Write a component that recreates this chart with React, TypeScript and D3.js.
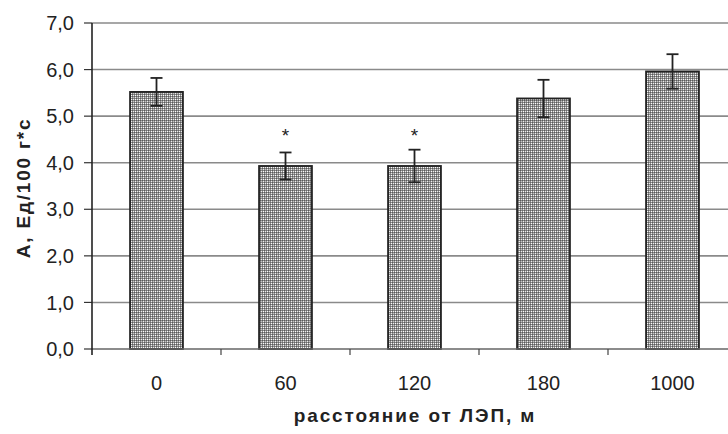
import React from 'react';
import * as d3 from 'd3';

// distance from power line, m
const categories = ['0', '60', '120', '180', '1000'];
const values = [5.52, 3.93, 3.93, 5.38, 5.96];
const errors = [0.3, 0.29, 0.35, 0.4, 0.37];
const marks = ['', '*', '*', '', ''];
const yTicks = [0, 1, 2, 3, 4, 5, 6, 7];

const width = 728;
const height = 434;
const margin = { top: 23, left: 92, bottom: 85 };
const bandWidth = 129;

export default function App() {
  const x = d3.scaleBand<string>()
    .domain(categories)
    .range([margin.left, margin.left + bandWidth * categories.length])
    .paddingInner(0.59)
    .paddingOuter(0.295);

  const y = d3.scaleLinear()
    .domain([0, 7])
    .range([height - margin.bottom, margin.top]);

  const fmt = (v: number) => v.toFixed(1).replace('.', ',');
  const bottom = y(0);
  const right = margin.left + bandWidth * categories.length;
  const sep = categories.map((_, i) => margin.left + bandWidth * (i + 1));

  return (
    <svg width={width} height={height}
      style={{ position: 'absolute', left: 0, top: 0, background: '#fff' }}
      fontFamily="Arial, 'Liberation Sans', sans-serif">
      <defs>
        <pattern id="dots" width="4" height="4" patternUnits="userSpaceOnUse">
          <rect width="4" height="4" fill="#8c8c8c" />
          <rect x="0" y="0" width="1" height="1" fill="#5a5a5a" />
          <rect x="2" y="0" width="1" height="1" fill="#5a5a5a" />
          <rect x="1" y="1" width="1" height="1" fill="#c4c4c4" />
          <rect x="3" y="1" width="1" height="1" fill="#ededed" />
          <rect x="0" y="2" width="1" height="1" fill="#5a5a5a" />
          <rect x="2" y="2" width="1" height="1" fill="#6a6a6a" />
          <rect x="1" y="3" width="1" height="1" fill="#ededed" />
          <rect x="3" y="3" width="1" height="1" fill="#ffffff" />
        </pattern>
      </defs>

      {yTicks.slice(1).map(t => (
        <line key={'g' + t} x1={margin.left} x2={right} y1={y(t)} y2={y(t)}
          stroke="#8a8a8a" strokeWidth={1.6} />
      ))}

      {yTicks.map(t => (
        <g key={'t' + t}>
          <line x1={margin.left - 8} x2={margin.left} y1={y(t)} y2={y(t)} stroke="#333" strokeWidth={1.2} />
          <text x={margin.left - 18} y={y(t)} dy="0.36em" textAnchor="end"
            fontSize={20} fill="#222">{fmt(t)}</text>
        </g>
      ))}

      {categories.map((c, i) => (
        <g key={c}>
          <rect x={x(c)} y={y(values[i])} width={x.bandwidth()} height={bottom - y(values[i])}
            fill="url(#dots)" stroke="#222" strokeWidth={1.8} />
          <line x1={x(c)! + x.bandwidth() / 2} x2={x(c)! + x.bandwidth() / 2}
            y1={y(values[i] + errors[i])} y2={y(values[i] - errors[i])} stroke="#222" strokeWidth={1.8} />
          <line x1={x(c)! + x.bandwidth() / 2 - 6} x2={x(c)! + x.bandwidth() / 2 + 6}
            y1={y(values[i] + errors[i])} y2={y(values[i] + errors[i])} stroke="#222" strokeWidth={1.8} />
          <line x1={x(c)! + x.bandwidth() / 2 - 6} x2={x(c)! + x.bandwidth() / 2 + 6}
            y1={y(values[i] - errors[i])} y2={y(values[i] - errors[i])} stroke="#222" strokeWidth={1.8} />
          {marks[i] && (
            <text x={x(c)! + x.bandwidth() / 2} y={y(4.72)} dy="0.7em" textAnchor="middle"
              fontSize={19} fill="#222">{marks[i]}</text>
          )}
          <text x={x(c)! + x.bandwidth() / 2} y={bottom + 34} dy="0.36em" textAnchor="middle"
            fontSize={20} fill="#222">{c}</text>
        </g>
      ))}

      <line x1={margin.left} x2={right} y1={bottom} y2={bottom} stroke="#666" strokeWidth={1.6} />
      {sep.map((s, i) => (
        <line key={'s' + i} x1={s} x2={s} y1={bottom} y2={bottom + 6} stroke="#444" strokeWidth={1.2} />
      ))}
      <line x1={margin.left} x2={margin.left} y1={margin.top} y2={bottom + 6} stroke="#222" strokeWidth={1.6} />

      <text x={415} y={415} dy="0.36em" textAnchor="middle" fontSize={19} fontWeight="bold"
        fill="#222" letterSpacing={1.9}>расстояние от ЛЭП, м</text>
      <text transform={`translate(23,188) rotate(-90)`} dy="0.36em"
        textAnchor="middle" fontSize={19} fontWeight="bold" fill="#222" letterSpacing={1.8}>А, Ед/100 г*с</text>
    </svg>
  );
}
